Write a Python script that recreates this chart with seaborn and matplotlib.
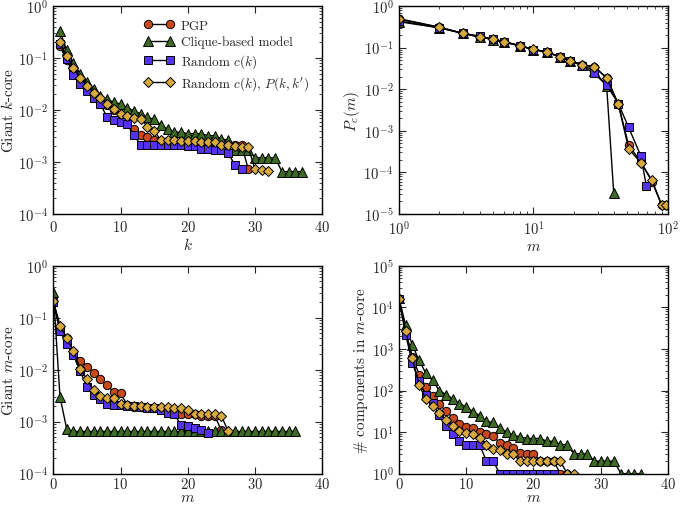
import numpy as np
import matplotlib
matplotlib.use("Agg")
import matplotlib.pyplot as plt
import seaborn as sns

# ---- data ----
series_names = ["PGP", "Clique-based model", "Random $c(k)$", "Random $c(k)$, $P(k,k')$"]

# giant k-core vs k
pgp_k = list(range(1, 30))
pgp_kcore = [0.17, 0.09, 0.06, 0.04, 0.028, 0.02, 0.016, 0.0125, 0.0098, 0.0078,
             0.0065, 0.0043, 0.0033, 0.0030, 0.0027, 0.0025, 0.0025, 0.0024, 0.0024, 0.0024,
             0.0023, 0.0023, 0.0023, 0.0022, 0.0022, 0.0022, 0.0021, 0.0021, 0.00073]
clique_k = list(range(1, 38))
clique_kcore = [0.33, 0.14, 0.08, 0.05, 0.034, 0.025, 0.019, 0.016, 0.014, 0.013,
                0.011, 0.0096, 0.0085, 0.0072, 0.0066, 0.0051, 0.0043, 0.0038, 0.0037, 0.0035,
                0.0035, 0.0035, 0.0032, 0.0032, 0.0028, 0.0026, 0.0017, 0.0017, 0.0017, 0.0012,
                0.0012, 0.0012, 0.0012, 0.00065, 0.00065, 0.00065, 0.00065]
rand_k = list(range(1, 29))
rand_kcore = [0.19, 0.095, 0.047, 0.032, 0.023, 0.017, 0.013, 0.0073, 0.0065, 0.0058,
              0.0053, 0.0033, 0.0021, 0.0021, 0.0021, 0.0021, 0.0021, 0.0021, 0.0021, 0.0020,
              0.0020, 0.0018, 0.0018, 0.0017, 0.0017, 0.0015, 0.00087, 0.00072]
randp_k = list(range(1, 33))
randp_kcore = [0.2, 0.11, 0.065, 0.041, 0.029, 0.021, 0.017, 0.013, 0.0104, 0.0083,
               0.0077, 0.0069, 0.0066, 0.0048, 0.0040, 0.0026, 0.0026, 0.0026, 0.0025, 0.0025,
               0.0025, 0.0024, 0.0024, 0.0024, 0.0021, 0.0021, 0.0020, 0.0019, 0.0019, 0.00072,
               0.00070, 0.00068]

# clique size distribution P_c(m)
pgp_pc_m = [1, 2, 3, 4, 5, 6, 8, 10, 12.6, 15.7, 18.8, 22.9, 28.2, 35, 42.8, 51, 62.8, 76, 90, 99]
pgp_pc = [0.48, 0.31, 0.22, 0.18, 0.16, 0.14, 0.11, 0.09, 0.078, 0.06,
          0.048, 0.039, 0.034, 0.019, 0.0043, 0.00045, 0.00018, 6e-5, 1.6e-5, 1.6e-5]
clique_pc_m = [1, 2, 3, 4, 5, 6, 8, 10, 12.6, 15.7, 18.8, 22.9, 28.2, 35, 39.5]
clique_pc = [0.42, 0.3, 0.22, 0.18, 0.155, 0.135, 0.11, 0.09, 0.078, 0.06,
             0.048, 0.038, 0.028, 0.012, 3.2e-5]
rand_pc_m = [1, 2, 3, 4, 5, 6, 8, 10, 12.6, 15.7, 18.8, 22.9, 28.2, 35, 42.8, 51, 62.8, 69]
rand_pc = [0.44, 0.3, 0.22, 0.19, 0.16, 0.14, 0.11, 0.09, 0.078, 0.06,
           0.048, 0.037, 0.024, 0.0125, 0.0045, 0.0012, 0.00025, 4.8e-5]
randp_pc_m = [1, 2, 3, 4, 5, 6, 8, 10, 12.6, 15.7, 18.8, 22.9, 28.2, 35, 42.8, 51, 62.8, 76, 90, 96]
randp_pc = [0.5, 0.31, 0.22, 0.18, 0.16, 0.14, 0.11, 0.091, 0.079, 0.06,
            0.048, 0.039, 0.035, 0.019, 0.0043, 0.00037, 0.00017, 6.5e-5, 1.6e-5, 1.6e-5]

# giant m-core vs m
pgp_m = list(range(0, 26))
pgp_mcore = [0.21, 0.065, 0.04, 0.022, 0.015, 0.0114, 0.0088, 0.0065, 0.0050, 0.0037,
             0.0035, 0.0021, 0.0019, 0.0019, 0.0018, 0.0018, 0.0018, 0.0017, 0.0017, 0.0014,
             0.0014, 0.0014, 0.0013, 0.0013, 0.0013, 0.00068]
clique_m = list(range(0, 37))
clique_mcore = [0.32, 0.003, 0.00072] + [0.00065] * 34
rand_m = list(range(0, 24))
rand_mcore = [0.2, 0.055, 0.031, 0.019, 0.0094, 0.0047, 0.0032, 0.0027, 0.0022, 0.0021,
              0.0021, 0.0020, 0.0020, 0.0019, 0.0018, 0.0018, 0.0017, 0.0015, 0.0014, 0.00086,
              0.00082, 0.00076, 0.00068, 0.0006]
randp_m = list(range(0, 27))
randp_mcore = [0.21, 0.071, 0.041, 0.023, 0.0105, 0.0065, 0.004, 0.0031, 0.0029, 0.0028,
               0.0022, 0.0021, 0.002, 0.002, 0.0019, 0.0019, 0.0019, 0.0019, 0.0018, 0.0018,
               0.0017, 0.0014, 0.0014, 0.0014, 0.0014, 0.0013, 0.00065]

# number of components in m-core
pgp_ncomp = [16000, 2500, 650, 240, 122, 74, 47, 32, 22, 16,
             13.5, 12.3, 10.2, 9.1, 8, 5.5, 5, 4.2, 3.1, 3,
             3, 2, 2, 2, 1, 1]
clique_ncomp = [16500, 3700, 1230, 530, 260, 175, 100, 80, 63, 47,
                41, 31, 25, 18, 17, 12.7, 10, 8.3, 7.7, 7,
                7, 7, 6, 6, 5, 5, 3, 3, 3, 2,
                2, 2, 2, 1, 1, 1, 1]
rand_ncomp = [16000, 2200, 450, 165, 78, 50, 26, 14, 9, 6,
              5, 5, 5, 2, 2, 1, 1, 1, 1, 1,
              1, 1, 1, 1]
randp_ncomp = [16000, 2700, 600, 135, 62, 43, 29, 19, 14, 10.6,
               9.6, 8.8, 7.3, 5, 4, 3.8, 3, 3, 2, 2,
               2, 2, 2, 2, 2, 1, 1]

face_colors = ["#c9491f", "#3d6b25", "#5533ee", "#d8a93c"]
markers = ["o", "^", "s", "D"]
marker_sizes = [6, 6.5, 6, 5.5]

# ---- style ----
sns.set_style("ticks")
plt.rcParams["font.family"] = ["cmr10", "DejaVu Serif"]
plt.rcParams["mathtext.fontset"] = "cm"
plt.rcParams["axes.unicode_minus"] = False
plt.rcParams["axes.formatter.use_mathtext"] = True
plt.rcParams["xtick.direction"] = "in"
plt.rcParams["ytick.direction"] = "in"
plt.rcParams["xtick.top"] = True
plt.rcParams["ytick.right"] = True
plt.rcParams["xtick.major.size"] = 5
plt.rcParams["ytick.major.size"] = 5
plt.rcParams["xtick.minor.size"] = 2.5
plt.rcParams["ytick.minor.size"] = 2.5
plt.rcParams["axes.linewidth"] = 1.0
plt.rcParams["axes.edgecolor"] = "black"

fig, axes = plt.subplots(2, 2, figsize=(6.83, 5.06), dpi=100)
fig.subplots_adjust(left=0.078, right=0.978, bottom=0.062, top=0.986,
                    wspace=0.285, hspace=0.25)


def draw(ax, xs_list, ys_list, labels=True):
    for i, (xs, ys) in enumerate(zip(xs_list, ys_list)):
        sns.lineplot(x=xs, y=ys, ax=ax, color="black", lw=1.0,
                     marker=markers[i], markersize=marker_sizes[i],
                     markerfacecolor=face_colors[i], markeredgecolor="black",
                     markeredgewidth=0.7, label=series_names[i] if labels else None,
                     legend=False, sort=False)


# top left: giant k-core
ax = axes[0, 0]
draw(ax, [pgp_k, clique_k, rand_k, randp_k],
     [pgp_kcore, clique_kcore, rand_kcore, randp_kcore])
ax.set_yscale("log")
ax.set_xlim(0, 40)
ax.set_ylim(1e-4, 1)
ax.set_xlabel("$k$", fontsize=11, labelpad=1)
ax.set_ylabel("Giant $k$-core", fontsize=11, labelpad=1)
ax.legend(loc="upper right", frameon=False, numpoints=2, fontsize=9.5,
          handlelength=2.3, handletextpad=0.5, borderaxespad=0.6, labelspacing=0.32,
          bbox_to_anchor=(1.0, 1.0))

# top right: P_c(m)
ax = axes[0, 1]
draw(ax, [pgp_pc_m, clique_pc_m, rand_pc_m, randp_pc_m],
     [pgp_pc, clique_pc, rand_pc, randp_pc], labels=False)
ax.set_xscale("log")
ax.set_yscale("log")
ax.set_xlim(1, 100)
ax.set_ylim(1e-5, 1)
ax.set_xlabel("$m$", fontsize=11, labelpad=1)
ax.set_ylabel("$P_c(m)$", fontsize=11, labelpad=1)

# bottom left: giant m-core
ax = axes[1, 0]
draw(ax, [pgp_m, clique_m, rand_m, randp_m],
     [pgp_mcore, clique_mcore, rand_mcore, randp_mcore], labels=False)
ax.set_yscale("log")
ax.set_xlim(0, 40)
ax.set_ylim(1e-4, 1)
ax.set_xlabel("$m$", fontsize=11, labelpad=0)
ax.set_ylabel("Giant $m$-core", fontsize=11, labelpad=1)

# bottom right: number of components
ax = axes[1, 1]
draw(ax, [pgp_m, clique_m, rand_m, randp_m],
     [pgp_ncomp, clique_ncomp, rand_ncomp, randp_ncomp], labels=False)
ax.set_yscale("log")
ax.set_xlim(0, 40)
ax.set_ylim(1, 1e5)
ax.set_xlabel("$m$", fontsize=11, labelpad=0)
ax.set_ylabel("# components in $m$-core", fontsize=11, labelpad=1)

for ax in axes.flat:
    ax.tick_params(labelsize=10.5, which="both", direction="in", top=True, right=True)
    ax.tick_params(axis="y", pad=4)
    if ax.get_xscale() == "linear":
        ax.set_xticks([0, 10, 20, 30, 40])

for ax in axes[0]:
    ax.tick_params(axis="x", pad=4)
for ax in axes[1]:
    ax.tick_params(axis="x", pad=1.5)

fig.savefig("out.png", dpi=100)
